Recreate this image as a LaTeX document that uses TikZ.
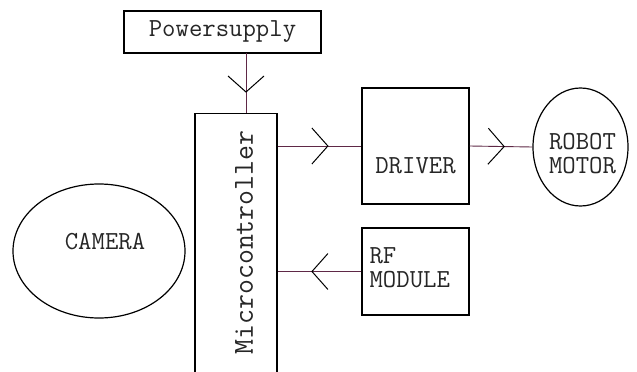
\documentclass[tikz,border=0pt]{standalone}
\usetikzlibrary{shapes.geometric,decorations.markings}
\definecolor{conn}{RGB}{95,40,70}
\begin{document}
\begin{tikzpicture}[x=1pt,y=-1pt,
  txt/.style={font=\ttfamily\fontsize{26}{24}\selectfont,text=black!85},
  box/.style={draw=black,line width=1.2pt,rectangle,inner sep=0pt},
  oval/.style={draw=black,line width=1.2pt,ellipse,inner sep=0pt},
  vhead/.style={postaction={decorate},decoration={markings,
     mark=at position #1 with {\draw[black,line width=1pt] (-16pt,18pt) -- (0,0) -- (-16pt,-18pt);}}},
  link/.style={draw=conn,line width=0.9pt}]
\useasboundingbox (0,0) rectangle (637,372);
\clip (0,0) rectangle (637,372);
\fill[white] (0,0) rectangle (637,372);
% nodes
\node[box,txt,minimum width=197pt,minimum height=42pt] (ps) at (222.5,32) {Powersupply};
\node[box,minimum width=82pt,minimum height=290pt,anchor=north] (mcu) at (236,113) {};
\node[txt,font=\ttfamily\fontsize{29}{30}\selectfont,rotate=90] (mclabel) at (244,242.5) {Microcontroller};
\node[box,minimum width=107pt,minimum height=116pt,
  label={[txt,yshift=-20pt]center:DRIVER}] (drv) at (415.5,146) {};
\node[box,minimum width=107pt,minimum height=87pt,
  label={[txt,anchor=west,align=left,inner sep=0pt,xshift=8pt,yshift=4pt]west:RF\\MODULE}] (rf) at (415.5,271.5) {};
\node[oval,minimum width=95pt,minimum height=118pt,
  label={[txt,align=center,xshift=2pt,yshift=-7pt]center:ROBOT\\MOTOR}] (motor) at (580.5,147) {};
\node[oval,minimum width=172pt,minimum height=134pt,
  label={[txt,xshift=6pt,yshift=9pt]center:CAMERA}] (cam) at (99,251) {};
% connectors
\coordinate (psout) at (246,53);
\coordinate (mcuin) at (246,113);
\coordinate (mcuA) at (mcu.north east |- drv.west);
\coordinate (mcuB) at (mcu.north east |- rf.west);
\path[link,vhead=0.65] (psout) -- (mcuin);
\path[link,vhead=0.6] (mcuA) -- (drv.west);
\path[link,vhead=0.55] (drv.east) -- (motor.west);
\path[link,vhead=0.59] (rf.west) -- (mcuB);
\end{tikzpicture}
\end{document}
